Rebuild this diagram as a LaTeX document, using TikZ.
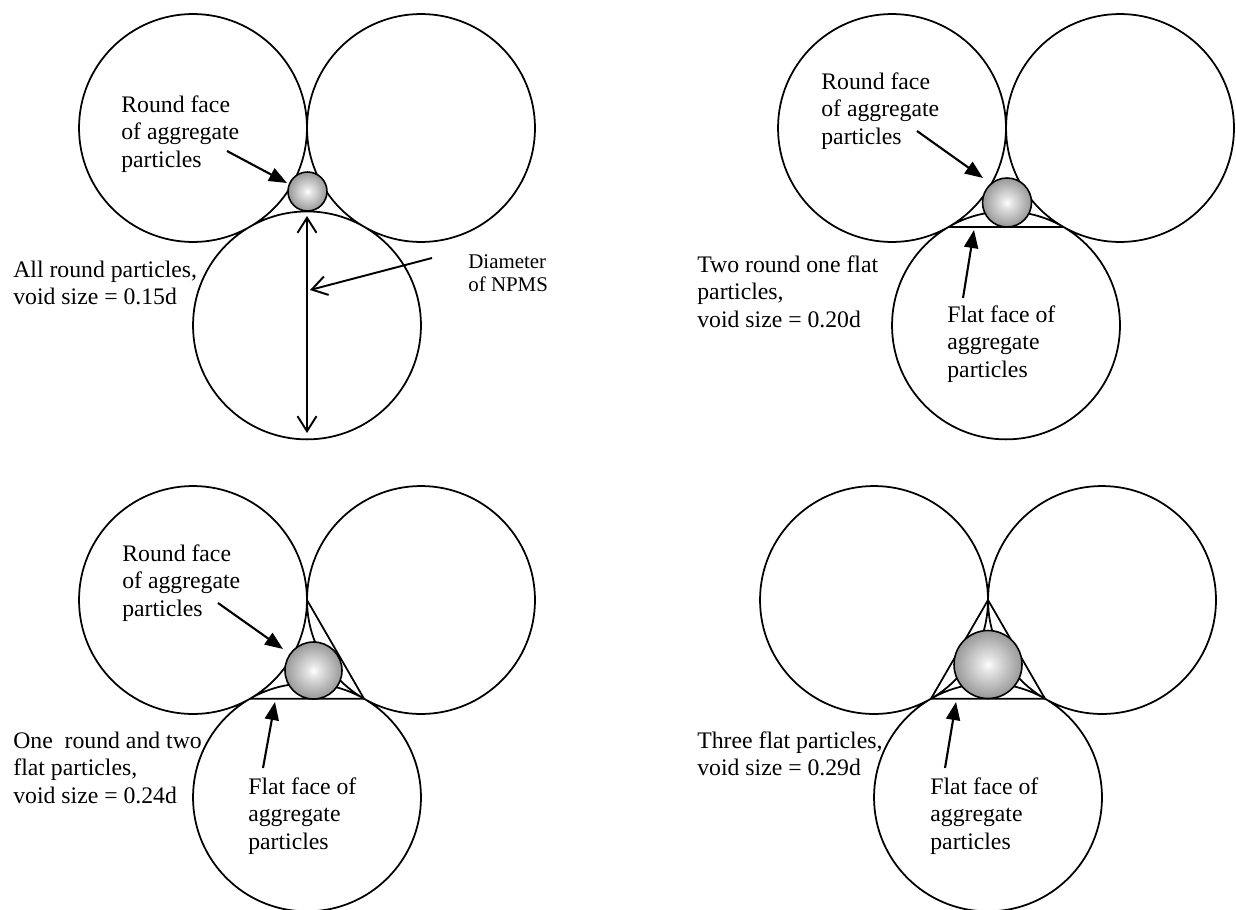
\documentclass[tikz,border=0pt]{standalone}
\usepackage{fontspec}
\setmainfont{Liberation Serif}
\usepackage{tikz}
\usetikzlibrary{arrows.meta}
\pgfdeclareradialshading{voidball}{\pgfpoint{0bp}{0bp}}{color(0bp)=(white); color(5bp)=(white!90!black); color(28bp)=(black!45); color(50bp)=(black!68)}
\tikzset{
  grain/.style={line width=1pt},
  void/.style={shade, shading=voidball, draw, line width=0.9pt},
  lbl/.style={anchor=base west, align=left, inner sep=0pt, font=\fontsize{13.5}{15.65}\selectfont},
  smalllbl/.style={lbl, font=\fontsize{11.9}{13}\selectfont},
  pointer/.style={-{Triangle[length=3.6mm,width=2.8mm]}, line width=1.2pt},
  barb/.style={{Straight Barb[length=3mm,width=3.8mm]}-{Straight Barb[length=3mm,width=3.8mm]}, line width=1.1pt}
}

\begin{document}
\begin{tikzpicture}[x=0.02cm, y=-0.02cm]
    \useasboundingbox (0,0) rectangle (1236,909);

    % all round particles
    \draw[grain] (193,128) circle (2.28cm) (421,128) circle (2.28cm) (307,325.4) circle (2.28cm);
    \path[void] (307.5,191.5) circle (0.39cm);
    \node[lbl] (round1) at (121,167) {Round face\\of aggregate\\particles};
    \node[lbl] (case1) at (13,304.5) {All round particles,\\void size = 0.15d};
    \node[smalllbl] (npms) at (468,291) {Diameter\\of NPMS};
    \coordinate (r1s) at (227,151);
    \coordinate (r1e) at (287,183);
    \draw[pointer] (r1s) -- (r1e);
    \coordinate (dtop) at (307,216);
    \coordinate (dbot) at (307,433);
    \draw[barb] (dtop) -- (dbot);
    \coordinate (ns) at (432,258);
    \coordinate (ne) at (310,290);
    \draw[-{Straight Barb[length=3mm,width=3.8mm]}, line width=1.1pt] (ns) -- (ne);

    % two round one flat
    \draw[grain] (892,128) circle (2.28cm) (1120,128) circle (2.28cm) (1006,325.4) circle (2.28cm);
    \draw[grain] (949,226.7) -- (1063,226.7);
    \path[void] (1007,202.5) circle (0.49cm);
    \node[lbl] (round2) at (821,144) {Round face\\of aggregate\\particles};
    \node[lbl] (case2) at (697,327) {Two round one flat\\particles,\\void size = 0.20d};
    \node[lbl] (flat2) at (947,377) {Flat face of\\aggregate\\particles};
    \coordinate (r2s) at (917,131);
    \coordinate (r2e) at (983,178);
    \draw[pointer] (r2s) -- (r2e);
    \coordinate (f2s) at (963,298);
    \coordinate (f2e) at (974,230);
    \draw[pointer] (f2s) -- (f2e);

    % one round two flat
    \draw[grain] (193,600) circle (2.28cm) (421,600) circle (2.28cm) (307,797.4) circle (2.28cm);
    \draw[grain] (250,698.7) -- (364,698.7) -- (307,600);
    \path[void] (313.5,670.5) circle (0.57cm);
    \node[lbl] (round3) at (122,616) {Round face\\of aggregate\\particles};
    \node[lbl] (case3) at (13,803) {One\ \ round and two\\flat particles,\\void size = 0.24d};
    \node[lbl] (flat3) at (248,849) {Flat face of\\aggregate\\particles};
    \coordinate (r3s) at (218,603);
    \coordinate (r3e) at (283,649);
    \draw[pointer] (r3s) -- (r3e);
    \coordinate (f3s) at (263,768);
    \coordinate (f3e) at (275,702);
    \draw[pointer] (f3s) -- (f3e);

    % three flat
    \draw[grain] (874,600) circle (2.28cm) (1102,600) circle (2.28cm) (988,797.4) circle (2.28cm);
    \draw[grain] (988,600) -- (931,698.7) -- (1045,698.7) -- cycle;
    \path[void] (988,664.5) circle (0.68cm);
    \node[lbl] (case4) at (697,775.5) {Three flat particles,\\void size = 0.29d};
    \node[lbl] (flat4) at (930,849) {Flat face of\\aggregate\\particles};
    \coordinate (f4s) at (945,768);
    \coordinate (f4e) at (956,702);
    \draw[pointer] (f4s) -- (f4e);
\end{tikzpicture}
\end{document}
